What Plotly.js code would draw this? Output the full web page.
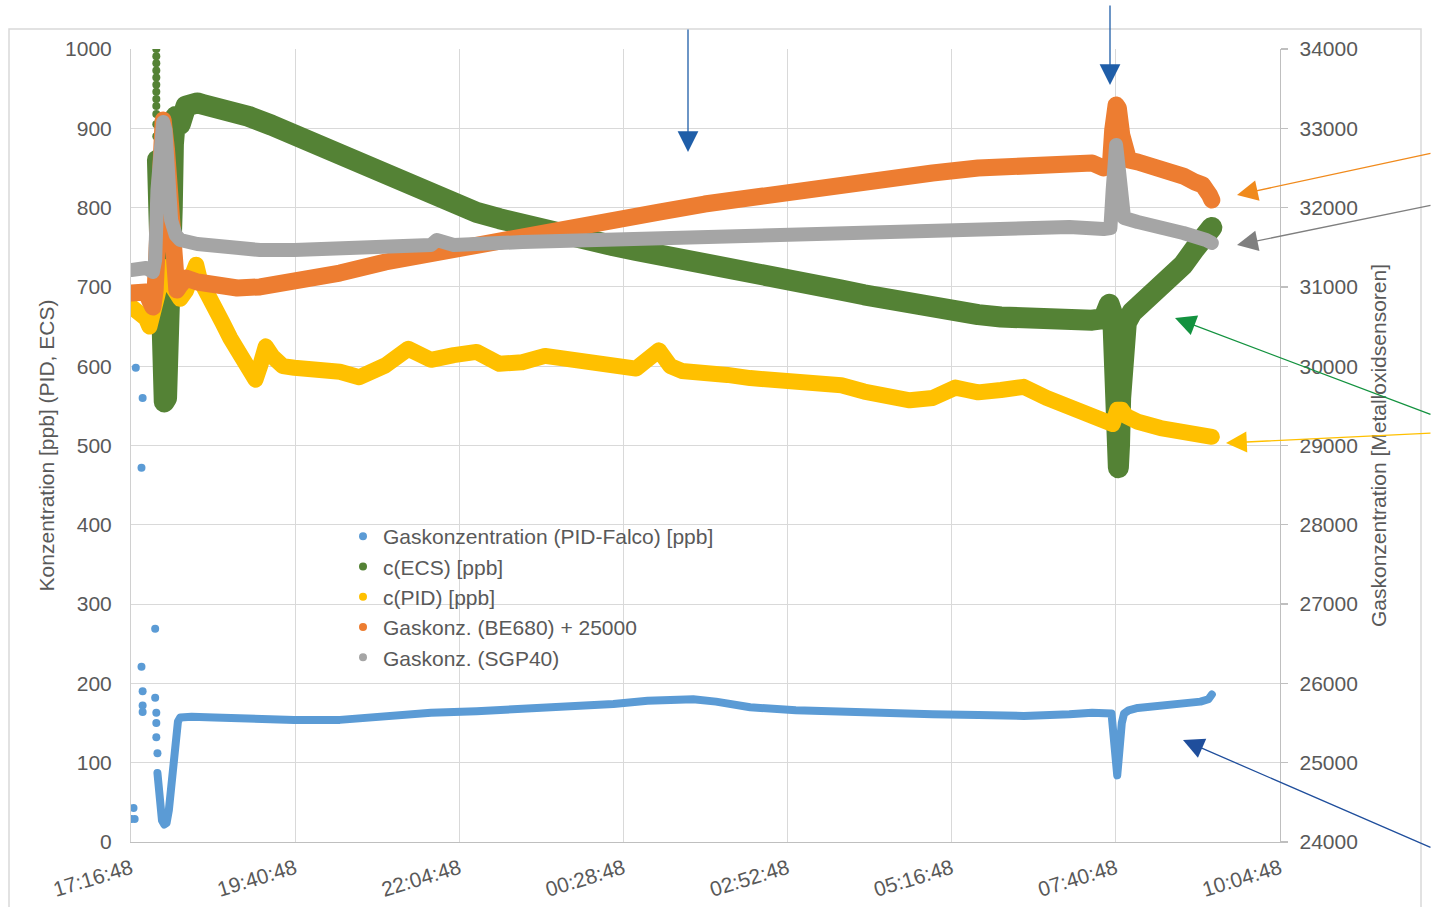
<!DOCTYPE html>
<html><head><meta charset="utf-8">
<script src="https://cdn.plot.ly/plotly-3.0.1.min.js"></script>
<style>
html,body{margin:0;padding:0;background:#fff;}
#chart{width:1432px;height:907px;}
path.js-line{stroke-linejoin:round !important;stroke-linecap:round !important;}
</style>
</head><body><div id="chart"></div>
<script>
// ---- data ----
const seriesNames = [
  'Gaskonzentration (PID-Falco) [ppb]',
  'c(ECS) [ppb]',
  'c(PID) [ppb]',
  'Gaskonz. (BE680) + 25000',
  'Gaskonz. (SGP40)'
];
const xTickLabels = ['17:16:48','19:40:48','22:04:48','00:28:48','02:52:48','05:16:48','07:40:48','10:04:48'];

// PID-Falco: sparse points at the start
const falcoScatterTimes = ['17:17','17:19','17:20','17:21','17:26','17:27','17:26','17:27','17:27','17:27','17:38','17:38','17:39','17:39','17:39','17:40'];
const falcoScatterValues = [29,43,29,598,472,560,221,190,172,164,269,182,163,150,132,112];
// PID-Falco: dense part
const falcoTimes = ['17:40','17:41','17:42','17:43','17:44','17:46','17:48','17:50','17:52','17:54','17:56','17:58','18:00','18:10','18:30','19:00','19:40','20:20','21:00','21:40','22:20','23:00','23:40','00:20','00:50','01:10','01:30','01:50','02:20','03:00','03:40','04:20','05:00','05:40','06:20','07:00','07:20','07:37','07:38','07:39','07:40','07:41','07:42','07:43','07:44','07:46','07:48','07:52','08:00','08:20','08:40','08:55','09:02','09:05'];
const falcoValues = [87,70,50,35,27,22,24,40,75,110,138,152,157,158,157,155,154,154,159,163,165,168,170,174,178,178,180,177,170,166,164,161,161,160,159,161,163,162,145,120,95,86,84,100,125,150,162,166,169,171,174,177,180,186];

// c(ECS): sparse points of the first fast drop
const ecsScatterTimes = ['17:39','17:39','17:39','17:39','17:39','17:39','17:39','17:39','17:39','17:39','17:39','17:39'];
const ecsScatterValues = [1000,991,982,973,964,955,946,937,928,918,905,890];
// c(ECS): dense part
const ecsTimes = ['17:40','17:41','17:42','17:44','17:46','17:48','17:50','17:52','17:53','17:54','17:56','17:58','18:00','18:05','18:10','18:15','18:20','18:40','19:00','19:20','19:40','20:00','20:20','20:40','21:00','21:20','21:40','22:00','22:20','22:40','23:00','23:20','23:40','00:00','00:20','00:40','01:00','01:20','01:40','02:00','02:20','02:40','03:00','03:20','03:40','04:00','04:20','04:40','05:00','05:20','05:40','06:00','06:20','06:40','07:00','07:20','07:30','07:35','07:38','07:39','07:40','07:42','07:43','07:44','07:45','07:46','07:48','07:50','07:55','08:00','08:10','08:20','08:30','08:40','08:50','09:00','09:05'];
const ecsValues = [860,720,610,565,555,560,620,700,800,880,915,910,905,928,932,932,930,924,915,904,891,878,865,852,839,826,814,803,794,786,778,771,764,758,752,746,741,737,730,724,718,714,709,702,696,690,684,678,673,668,665,662,660,658,657,658,660,678,665,600,520,478,472,500,560,610,640,655,668,675,680,695,712,728,748,765,775];

// c(PID)
const pidTimes = ['17:17','17:20','17:25','17:30','17:33','17:37','17:40','17:44','17:48','17:51','17:56','18:00','18:05','18:10','18:14','18:17','18:23','18:30','18:37','18:44','18:50','18:57','19:01','19:06','19:10','19:15','19:21','19:30','19:40','20:00','20:20','20:37','21:00','21:20','21:40','22:00','22:20','22:40','23:00','23:20','23:40','00:00','00:20','00:40','01:00','01:10','01:20','01:40','02:00','02:20','02:40','03:00','03:20','03:40','04:00','04:20','04:40','05:00','05:20','05:30','05:40','06:00','06:20','06:40','07:00','07:20','07:30','07:38','07:42','07:46','07:50','08:00','08:20','08:40','09:00','09:05'];
const pidValues = [675,672,668,660,650,665,690,715,725,705,690,685,695,720,728,710,690,668,655,635,618,600,590,583,600,625,612,600,598,597,593,586,601,622,608,614,618,603,605,613,608,602,601,597,620,600,594,589,589,585,583,582,577,576,568,562,557,560,573,570,567,570,574,560,548,538,532,527,545,545,537,530,522,517,513,511];

// BE680 + 25000 (right axis)
const be680Times = ['17:17','17:25','17:30','17:33','17:36','17:38','17:40','17:43','17:45','17:48','17:51','17:54','17:57','18:00','18:05','18:15','18:30','18:50','19:10','19:40','20:20','21:00','21:40','22:20','23:00','23:40','00:20','01:00','01:40','02:20','03:00','03:40','04:20','05:00','05:40','06:20','07:00','07:20','07:30','07:36','07:38','07:41','07:43','07:46','07:48','07:52','08:00','08:20','08:40','08:50','08:57','09:03','09:05'];
const be680Values = [30923,30898,30936,30835,30746,30960,31843,32726,33105,32726,31843,31339,30960,31024,31112,31062,31024,30986,31000,31062,31175,31314,31427,31528,31629,31743,31843,31944,32045,32133,32222,32297,32373,32436,32499,32537,32562,32562,32499,32537,32978,33294,33256,32915,32663,32600,32575,32512,32398,32323,32285,32159,32096];

// SGP40 (right axis)
const sgp40Times = ['17:17','17:30','17:36','17:38','17:40','17:43','17:45','17:47','17:50','17:52','17:56','18:00','18:15','18:40','19:10','19:40','20:20','21:00','21:40','21:45','22:00','23:00','00:00','01:00','02:00','03:00','04:00','05:00','06:00','07:00','07:30','07:36','07:38','07:41','07:43','07:46','07:48','08:00','08:20','08:40','09:00','09:05'];
const sgp40Values = [31213,31238,31188,31339,32222,32915,33079,32978,32348,31843,31654,31591,31541,31490,31465,31465,31478,31490,31528,31591,31528,31566,31591,31617,31642,31680,31705,31730,31743,31755,31730,31743,32222,32789,32537,31970,31869,31818,31768,31680,31591,31554];

const colors = ['#5b9bd5','#548235','#ffc000','#ed7d31','#a5a5a5'];

// time of day -> full timestamp (evening = day 1, morning = day 2)
function toDate(t){
  const h = parseInt(t.split(':')[0],10);
  const full = t.length === 5 ? t + ':00' : t;
  return (h >= 12 ? '2021-03-01 ' : '2021-03-02 ') + full;
}
const D = a => a.map(toDate);

const FONT = 'Liberation Sans, Arial, sans-serif';
const TXT = '#595959';

const traces = [
  {x: D(falcoScatterTimes), y: falcoScatterValues, mode:'markers', yaxis:'y', showlegend:false,
   marker:{color:colors[0], size:8}},
  {x: D(falcoTimes), y: falcoValues, mode:'lines', yaxis:'y', showlegend:false,
   line:{color:colors[0], width:8}},
  {x: D(ecsScatterTimes), y: ecsScatterValues, mode:'markers', yaxis:'y', showlegend:false,
   marker:{color:colors[1], size:8}},
  {x: D(ecsTimes), y: ecsValues, mode:'lines', yaxis:'y', showlegend:false,
   line:{color:colors[1], width:21}},
  {x: D(pidTimes), y: pidValues, mode:'lines', yaxis:'y', showlegend:false,
   line:{color:colors[2], width:16}},
  {x: D(be680Times), y: be680Values, mode:'lines', yaxis:'y2', showlegend:false,
   line:{color:colors[3], width:17}},
  {x: D(sgp40Times), y: sgp40Values, mode:'lines', yaxis:'y2', showlegend:false,
   line:{color:colors[4], width:14}}
];
// legend entries (dot symbols)
seriesNames.forEach((n,i)=>{
  traces.push({x:[null], y:[null], mode:'markers', name:n, yaxis:'y',
    marker:{color:colors[i], size:8}, hoverinfo:'skip'});
});

const L = 131, W = 1149, H = 793;
const px = x => (x - L) / W;
const py = y => (842 - y) / H;

function arrow(tipX, tipY, tailX, tailY, color){
  return {xref:'paper', yref:'paper', x:px(tipX), y:py(tipY), ax:tailX-tipX, ay:tailY-tipY,
    axref:'pixel', ayref:'pixel', text:'', showarrow:true, arrowhead:2, arrowsize:3.2,
    arrowwidth:1.3, arrowcolor:color, standoff:0};
}

const layout = {
  width:1432, height:907,
  margin:{l:131, r:152, t:49, b:65, pad:0},
  paper_bgcolor:'#ffffff', plot_bgcolor:'#ffffff',
  font:{family:FONT, size:21, color:TXT},
  showlegend:true,
  legend:{x:px(343), y:py(516), xanchor:'left', yanchor:'top', bgcolor:'rgba(0,0,0,0)',
    font:{family:FONT, size:21, color:TXT}, itemwidth:30, traceorder:'normal'},
  xaxis:{type:'date', range:[toDate('17:16:48'), toDate('10:04:48')],
    tickvals:D(xTickLabels), ticktext:xTickLabels, tickangle:-17,
    showgrid:true, gridcolor:'#d9d9d9', gridwidth:1,
    showline:true, linecolor:'#bfbfbf', linewidth:1.3, zeroline:false,
    ticks:'', ticklabelstandoff:5, tickfont:{family:FONT, size:21, color:TXT}},
  yaxis:{range:[0,1000], dtick:100, tick0:0, showgrid:true, gridcolor:'#d9d9d9', gridwidth:1,
    showline:true, linecolor:'#d0d0d0', zeroline:false, ticks:'', ticklabelstandoff:14,
    tickfont:{family:FONT, size:21, color:TXT},
    title:{text:'Konzentration [ppb] (PID, ECS)', font:{family:FONT, size:21, color:TXT}, standoff:4}},
  yaxis2:{range:[24000,34000], dtick:1000, tick0:24000, overlaying:'y', side:'right',
    showgrid:false, zeroline:false, showline:true, linecolor:'#bfbfbf', linewidth:1.3,
    ticks:'outside', ticklen:7, tickcolor:'#bfbfbf', tickwidth:1.3, ticklabelstandoff:7,
    tickformat:'d', tickfont:{family:FONT, size:21, color:TXT},
    title:{text:'Gaskonzentration [Metalloxidsensoren]', font:{family:FONT, size:21, color:TXT}, standoff:14}},
  shapes:[
    {type:'rect', xref:'paper', yref:'paper', x0:px(9), x1:px(1421), y0:py(915), y1:py(29),
     line:{color:'#d9d9d9', width:1.5}, fillcolor:'rgba(0,0,0,0)', layer:'below'}
  ],
  annotations:[
    arrow(688,152,688,28,'#1f5ea8'),
    arrow(1110,85,1110,4,'#1f5ea8'),
    arrow(1237,195,1440,153,'#f08a1c'),
    arrow(1237,245,1440,205,'#7f7f7f'),
    arrow(1175,318,1440,415,'#13923f'),
    arrow(1226,443,1440,433,'#ffc000'),
    arrow(1183,740,1440,848,'#1f4e9c')
  ]
};

Plotly.newPlot('chart', traces, layout, {displayModeBar:false, staticPlot:true});
</script>
</body></html>
